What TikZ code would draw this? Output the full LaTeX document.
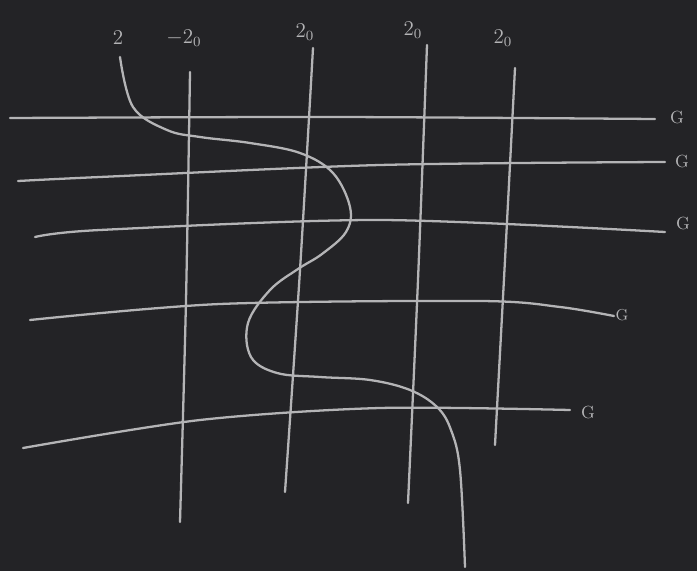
\documentclass[tikz,border=0pt]{standalone}
\usepackage{amsmath}
\usepackage{tikz}
\definecolor{board}{HTML}{232326}
\definecolor{chalkgrey}{HTML}{B4B4B6}

\begin{document}
\begin{tikzpicture}[
  x=0.02cm, y=-0.02cm,
  every node/.style={font=\large},
  chalk/.style={draw=chalkgrey, line width=1.3pt, line cap=round, line join=round},
  toplabel/.style={text=chalkgrey, inner sep=1pt},
  sidelabel/.style={text=chalkgrey, inner sep=1pt, font=\normalsize}
]

% ===== BOARD =====
\fill[board] (0,0) rectangle (697,571);
\useasboundingbox (0,0) rectangle (697,571);

% ===== LABELS =====
\node[toplabel] (lz)  at (118,38) {$2$};
\node[toplabel] (la)  at (184,38) {$-2_0$};
\node[toplabel] (lb)  at (305,32) {$2_0$};
\node[toplabel] (lc)  at (413,30) {$2_0$};
\node[toplabel] (ld)  at (503,38) {$2_0$};
\node[sidelabel] (g1) at (677,118) {G};
\node[sidelabel] (g2) at (682,162) {G};
\node[sidelabel] (g3) at (683,224) {G};
\node[sidelabel, font=\small] (g4) at (622,315) {G};
\node[sidelabel] (g5) at (588,412) {G};

% ===== HORIZONTAL LINES =====
\draw[chalk] plot[smooth] coordinates {(10,118) (330,117) (655,119)};
\draw[chalk] plot[smooth] coordinates {(18,181) (100,177) (380,165) (665,162)};
\draw[chalk] plot[smooth] coordinates {(35,237) (100,230) (380,220) (665,232)};
\draw[chalk] plot[smooth] coordinates {(30,320) (220,304) (480,301) (560,307) (614,316)};
\draw[chalk] plot[smooth] coordinates {(23,448) (200,420) (380,408) (570,410)};

% ===== VERTICAL LINES =====
\draw[chalk] plot[smooth] coordinates {(190,72) (186,300) (180,522)};
\draw[chalk] plot[smooth] coordinates {(313,48) (300,270) (285,492)};
\draw[chalk] plot[smooth] coordinates {(427,45) (418,280) (408,503)};
\draw[chalk] plot[smooth] coordinates {(515,68) (505,260) (495,445)};

% ===== WINDING CURVE =====
\draw[chalk] plot[smooth, tension=0.6] coordinates {
  (120,57) (133,107) (167,130) (200,137) (250,143) (300,153)
  (333,173) (350,207) (346,232) (322,254) (298,269) (270,290)
  (248,323) (251,357) (277,373) (320,377) (370,380) (410,390)
  (437,407) (451,430) (460,470) (465,567)};

\end{tikzpicture}
\end{document}
